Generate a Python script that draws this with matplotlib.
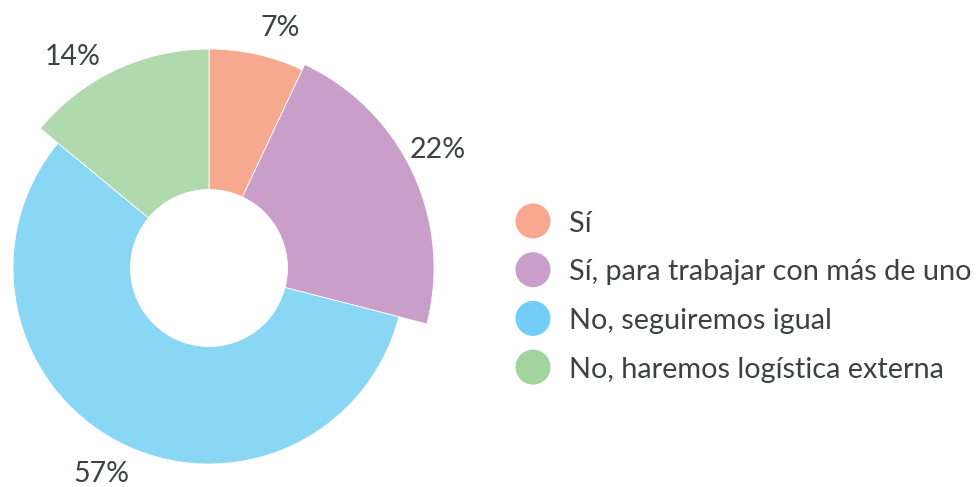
import numpy as np
import matplotlib.pyplot as plt
from matplotlib.patches import Wedge, Circle

plt.rcParams["font.family"] = ["Lato", "DejaVu Sans"]

labels = ["Sí", "Sí, para trabajar con más de uno", "No, seguiremos igual",
          "No, haremos logística externa"]
shares = [7, 22, 57, 14]

slice_colors = ["#F7A98F", "#C99FCA", "#89D7F5", "#B0DAAD"]
legend_colors = ["#F7A88F", "#C99FCA", "#72CEF6", "#A2D59D"]
outer_r = [219, 225, 196, 219]  # each slice sticks out by its own radius
inner_r = 78.5
label_nudge = [-3.7, 2.6, -0.8, 7.3]  # degrees, keeps labels off each other
text_color = "#3C4242"

fig = plt.figure(figsize=(9.79, 4.87), dpi=100)
ax = fig.add_axes([0, 0, 1, 1])
ax.set_xlim(0, 979)
ax.set_ylim(0, 487)
ax.axis("off")

cx, cy = 209, 219
fracs = np.array(shares) / sum(shares)
start = 90.0
for f, col, r, val, nud in zip(fracs, slice_colors, outer_r, shares, label_nudge):
    end = start - 360 * f
    ax.add_patch(Wedge((cx, cy), r, end, start, width=r - inner_r,
                       facecolor=col, edgecolor="white", linewidth=0.6))
    mid = np.deg2rad((start + end) / 2 + nud)
    d = r + 34
    ax.text(cx + d * np.cos(mid), cy + d * np.sin(mid), f"{val}%",
            ha="center", va="center_baseline", fontsize=20.5, color=text_color)
    start = end

# legend
lx, ly0, step = 533, 487 - 221, 48.7
for i, (lab, col) in enumerate(zip(labels, legend_colors)):
    y = ly0 - i * step
    ax.add_patch(Circle((lx, y), 17.5, facecolor=col, edgecolor="none"))
    ax.text(lx + 36, y, lab, ha="left", va="center_baseline", fontsize=20.8,
            color=text_color)

fig.savefig("out.png", dpi=100)
